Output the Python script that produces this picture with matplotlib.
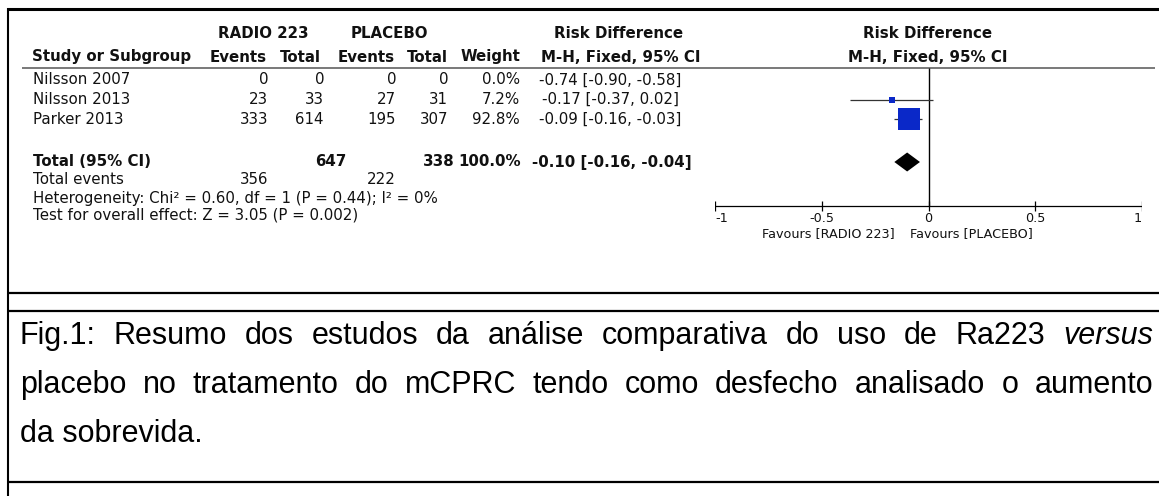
import matplotlib
matplotlib.use("Agg")
import matplotlib.pyplot as plt

# table data
studies = ["Nilsson 2007", "Nilsson 2013", "Parker 2013"]
radio_events = [0, 23, 333]
radio_total = [0, 33, 614]
placebo_events = [0, 27, 195]
placebo_total = [0, 31, 307]
weights = [0.0, 7.2, 92.8]
rd = [-0.74, -0.17, -0.09]
rd_low = [-0.90, -0.37, -0.16]
rd_high = [-0.58, 0.02, -0.03]

total_radio = 647
total_placebo = 338
events_radio = 356
events_placebo = 222
total_weight = 100.0
total_rd = -0.10
total_low = -0.16
total_high = -0.04

heterogeneity = "Heterogeneity: Chi² = 0.60, df = 1 (P = 0.44); I² = 0%"
overall = "Test for overall effect: Z = 3.05 (P = 0.002)"

axis_ticks = [-1, -0.5, 0, 0.5, 1]
axis_labels = ["-1", "-0.5", "0", "0.5", "1"]
favours = ["Favours [RADIO 223]", "Favours [PLACEBO]"]

caption_lines = [
    [("Fig.1:", "normal"), ("Resumo", "normal"), ("dos", "normal"), ("estudos", "normal"),
     ("da", "normal"), ("análise", "normal"), ("comparativa", "normal"), ("do", "normal"),
     ("uso", "normal"), ("de", "normal"), ("Ra223", "normal"), ("versus", "italic")],
    [(w, "normal") for w in "placebo no tratamento do mCPRC tendo como desfecho analisado o aumento".split()],
    [("da sobrevida.", "normal")],
]

W, H = 1159, 496
FONT = "DejaVu Sans"
FS = 10.8
SMALL = 9.2
BLUE = "#0a28c8"


def ci_text(e, lo, hi):
    return f"{e:.2f} [{lo:.2f}, {hi:.2f}]"


fig = plt.figure(figsize=(W / 100, H / 100), dpi=100)
ax = fig.add_axes([0, 0, 1, 1])
ax.set_xlim(0, W)
ax.set_ylim(H, 0)
ax.axis("off")

# frame lines
ax.hlines(9, 7, W, color="black", lw=2.2)
ax.vlines(7.5, 8, H, color="black", lw=1.5)
for yy in [292.5, 311, 482]:
    ax.hlines(yy, 7, W, color="black", lw=1.6)

# headers
def txt(x, y, s, ha="left", bold=False, size=FS):
    ax.text(x, y, s, ha=ha, va="center", fontsize=size, family=FONT,
            fontweight="bold" if bold else "normal", color="#111111")

y_h1, y_h2 = 33, 57
txt(263, y_h1, "RADIO 223", "center", True)
txt(389, y_h1, "PLACEBO", "center", True)
txt(619, y_h1, "Risk Difference", "center", True)
txt(928, y_h1, "Risk Difference", "center", True)
txt(32, y_h2, "Study or Subgroup", "left", True)
txt(267, y_h2, "Events", "right", True)
txt(321, y_h2, "Total", "right", True)
txt(395, y_h2, "Events", "right", True)
txt(448, y_h2, "Total", "right", True)
txt(520, y_h2, "Weight", "right", True)
txt(621, y_h2, "M-H, Fixed, 95% CI", "center", True)
txt(928, y_h2, "M-H, Fixed, 95% CI", "center", True)
ax.hlines(68, 22, 1155, color="#555555", lw=1.1)

# study rows
row_y = [80, 99.5, 119]
for i, name in enumerate(studies):
    y = row_y[i]
    txt(33, y, name)
    txt(268, y, str(radio_events[i]), "right")
    txt(324, y, str(radio_total[i]), "right")
    txt(396, y, str(placebo_events[i]), "right")
    txt(448, y, str(placebo_total[i]), "right")
    txt(520, y, f"{weights[i]:.1f}%", "right")
    txt(610, y, ci_text(rd[i], rd_low[i], rd_high[i]), "center")

y_tot = 162
txt(33, y_tot, "Total (95% CI)", bold=True)
txt(347, y_tot, str(total_radio), "right", True)
txt(455, y_tot, str(total_placebo), "right", True)
txt(521, y_tot, f"{total_weight:.1f}%", "right", True)
txt(612, y_tot, ci_text(total_rd, total_low, total_high), "center", True)
txt(33, 180, "Total events")
txt(268, 180, str(events_radio), "right")
txt(396, 180, str(events_placebo), "right")
txt(33, 198, heterogeneity)
txt(33, 215, overall)

# forest plot on its own axes, x in risk difference units
fx = fig.add_axes([715 / W, 0, 427 / W, 1])
fx.set_xlim(axis_ticks[0], axis_ticks[-1])
fx.set_ylim(H, 0)
fx.axis("off")

y_axis = 206
fx.vlines(0, 68, y_axis, color="black", lw=1.0)
fx.hlines(y_axis, axis_ticks[0], axis_ticks[-1], color="black", lw=0.9)
fx.vlines(axis_ticks, y_axis - 5, y_axis + 5, color="black", lw=0.9)
for k, (t, lab) in enumerate(zip(axis_ticks, axis_labels)):
    ha = "left" if k == 0 else ("right" if k == len(axis_ticks) - 1 else "center")
    fx.text(t, 218, lab, ha=ha, va="center", fontsize=SMALL, family=FONT, color="#111111")

max_w = max(weights)
for i in range(len(studies)):
    if weights[i] == 0:
        continue
    y = row_y[i]
    fx.hlines(y, rd_low[i], rd_high[i], color="#333333", lw=0.9)
    side = 22 * (weights[i] / max_w) ** 0.5
    fx.scatter([rd[i]], [y], s=(side * 0.72) ** 2, marker="s", color=BLUE,
               linewidths=0, zorder=3)

fx.fill([total_low, total_rd, total_high, total_rd],
        [y_tot, y_tot - 9.5, y_tot, y_tot + 9.5], color="black", lw=0)

ax.text(895, 234, favours[0], ha="right", va="center", fontsize=SMALL, family=FONT, color="#111111")
ax.text(910, 234, favours[1], ha="left", va="center", fontsize=SMALL, family=FONT, color="#111111")

# caption, justified lines
renderer = fig.canvas.get_renderer()
cap_y = [336, 385, 434]
left, right = 20, 1153
for li, words in enumerate(caption_lines):
    texts = [ax.text(0, cap_y[li], w, fontsize=22, family="Liberation Sans", style=st,
                     va="center", ha="left") for w, st in words]
    if li == len(caption_lines) - 1:
        texts[0].set_x(left)
        continue
    widths = [t.get_window_extent(renderer).width for t in texts]
    gap = (right - left - sum(widths)) / (len(texts) - 1)
    x = left
    for t, w in zip(texts, widths):
        t.set_x(x)
        x += w + gap

fig.savefig("out.png", dpi=100)
